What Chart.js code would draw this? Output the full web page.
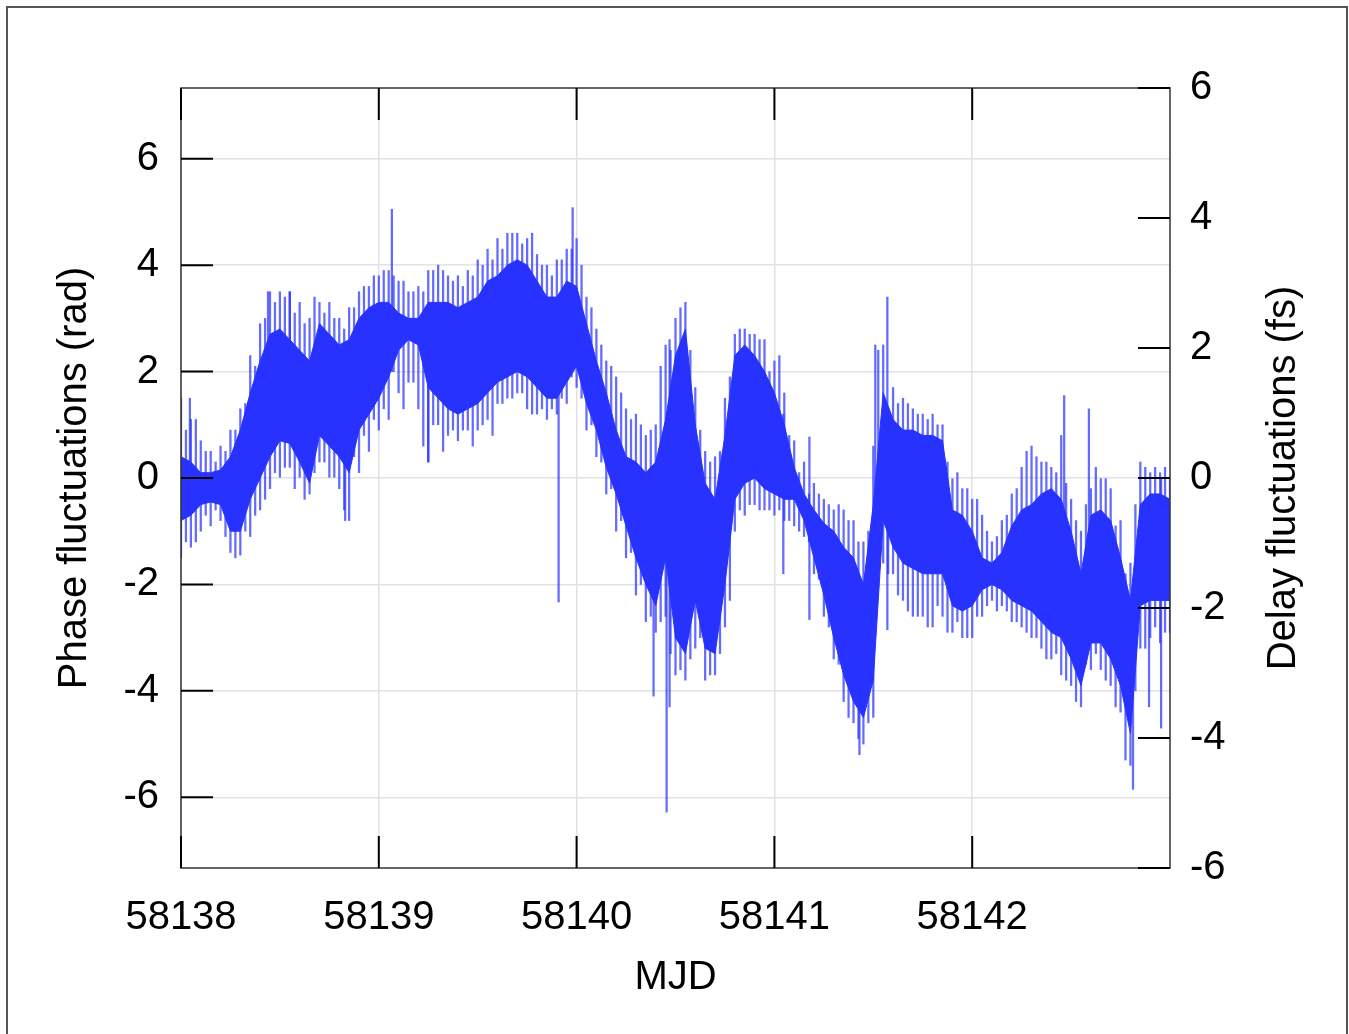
<!DOCTYPE html>
<html>
<head>
<meta charset="utf-8">
<script src="https://cdn.jsdelivr.net/npm/chart.js@4/dist/chart.umd.min.js"></script>
<style>
  html, body { margin: 0; padding: 0; background: #fff; }
  canvas { display: block; }
</style>
</head>
<body>
<canvas id="phase" width="1349" height="1034"></canvas>
<script>
/* ─── phase / delay fluctuations vs MJD ───────────────────────────────────── */

// sample positions (MJD) of the read-off envelope
const mjd = [
  58138.00, 58138.05, 58138.10, 58138.15, 58138.20, 58138.25, 58138.30, 58138.35, 58138.40, 58138.45,
  58138.50, 58138.55, 58138.60, 58138.65, 58138.70, 58138.75, 58138.80, 58138.85, 58138.90, 58138.95,
  58139.00, 58139.05, 58139.10, 58139.15, 58139.20, 58139.25, 58139.30, 58139.35, 58139.40, 58139.45,
  58139.50, 58139.55, 58139.60, 58139.65, 58139.70, 58139.75, 58139.80, 58139.85, 58139.90, 58139.95,
  58140.00, 58140.05, 58140.10, 58140.15, 58140.20, 58140.25, 58140.30, 58140.35, 58140.40, 58140.45,
  58140.50, 58140.55, 58140.60, 58140.65, 58140.70, 58140.75, 58140.80, 58140.85, 58140.90, 58140.95,
  58141.00, 58141.05, 58141.10, 58141.15, 58141.20, 58141.25, 58141.30, 58141.35, 58141.40, 58141.45,
  58141.50, 58141.55, 58141.60, 58141.65, 58141.70, 58141.75, 58141.80, 58141.85, 58141.90, 58141.95,
  58142.00, 58142.05, 58142.10, 58142.15, 58142.20, 58142.25, 58142.30, 58142.35, 58142.40, 58142.45,
  58142.50, 58142.55, 58142.60, 58142.65, 58142.70, 58142.75, 58142.80, 58142.85, 58142.90, 58142.95,
  58143.00
];

// dense part of the trace (rad)
const coreHi = [
  0.4, 0.3, 0.1, 0.1, 0.15, 0.4, 0.9, 1.6, 2.2, 2.7,
  2.8, 2.6, 2.4, 2.2, 2.9, 2.7, 2.5, 2.6, 3.0, 3.2,
  3.3, 3.3, 3.1, 3.0, 3.0, 3.3, 3.3, 3.3, 3.2, 3.3,
  3.4, 3.7, 3.8, 4.0, 4.1, 4.0, 3.7, 3.4, 3.4, 3.7,
  3.6, 2.9, 2.2, 1.6, 0.9, 0.4, 0.3, 0.1, 0.3, 1.1,
  2.3, 2.8, 1.0, -0.1, -0.4, 0.8, 2.3, 2.5, 2.3, 2.0,
  1.6, 1.0, 0.2, -0.3, -0.6, -0.85, -1.0, -1.3, -1.5, -2.0,
  -0.5, 1.6, 1.1, 0.9, 0.9, 0.8, 0.8, 0.7, -0.6, -0.7,
  -1.0, -1.5, -1.6, -1.4, -0.9, -0.6, -0.5, -0.3, -0.2, -0.4,
  -1.0, -1.8, -0.7, -0.6, -0.8, -1.5, -2.3, -0.5, -0.3, -0.3,
  -0.4
];
const coreLo = [
  -0.8, -0.7, -0.5, -0.45, -0.5, -1.0, -1.0, -0.4, 0.0, 0.4,
  0.7, 0.65, 0.3, -0.1, 0.8, 0.6, 0.4, 0.1, 0.9, 1.2,
  1.5, 1.9, 2.4, 2.6, 2.5, 1.7, 1.5, 1.3, 1.2, 1.3,
  1.4, 1.6, 1.8, 1.9, 2.0, 1.9, 1.7, 1.5, 1.5, 1.8,
  2.1, 1.4, 0.9, 0.2, -0.3, -0.9, -1.5, -2.0, -2.4, -1.5,
  -3.0, -3.3, -2.3, -3.2, -3.3, -2.0, -0.4, -0.1, 0.0, -0.2,
  -0.3, -0.4, -0.4, -0.8, -1.5, -2.2, -3.0, -3.7, -4.2, -4.5,
  -3.8, -0.8, -1.3, -1.6, -1.7, -1.8, -1.8, -1.8, -2.4, -2.5,
  -2.4, -2.1, -2.0, -2.1, -2.3, -2.4, -2.5, -2.7, -2.9, -3.0,
  -3.4, -3.9, -3.1, -3.1, -3.4, -3.9, -4.8, -2.4, -2.3, -2.3,
  -2.3
];

// whisker tips at each sample (rad)
const tipHi = [
  1.5, 1.1, 0.7, 0.5, 0.6, 0.9, 1.3, 2.3, 2.9, 3.5,
  3.5, 3.5, 3.3, 3.0, 3.3, 3.3, 3.0, 3.2, 3.5, 3.6,
  3.8, 3.9, 3.7, 3.5, 3.6, 3.9, 4.0, 3.8, 3.8, 3.9,
  4.1, 4.3, 4.5, 4.6, 4.6, 4.5, 4.2, 4.0, 4.1, 4.3,
  4.5, 3.4, 2.8, 2.2, 1.9, 1.3, 1.2, 0.8, 1.0, 2.5,
  3.0, 3.3, 1.7, 0.5, 0.4, 1.5, 2.7, 2.8, 2.7, 2.6,
  2.2, 1.6, 0.7, 0.3, -0.1, -0.4, -0.6, -0.6, -0.8, -1.2,
  0.6, 2.5, 1.7, 1.5, 1.3, 1.2, 1.2, 1.0, 0.0, -0.2,
  -0.4, -0.7, -1.2, -0.8, -0.3, 0.2, 0.6, 0.3, 0.2, 0.8,
  -0.4, -1.0, -0.2, 0.0, -0.2, -0.8, -1.6, 0.3, 0.1, 0.1,
  0.0
];
const tipLo = [
  -1.5, -1.3, -1.0, -0.9, -0.8, -1.4, -1.45, -1.1, -0.6, -0.2,
  0.0, 0.2, 0.0, -0.3, 0.3, 0.0, -0.2, -0.8, 0.1, 0.5,
  0.9, 1.1, 1.6, 1.8, 1.3, 0.3, 1.0, 0.8, 0.7, 0.9,
  0.9, 1.1, 1.4, 1.5, 1.6, 1.3, 1.2, 1.1, 1.2, 1.4,
  1.7, 0.9, 0.4, -0.3, -1.0, -1.5, -2.2, -2.7, -2.9, -2.6,
  -3.7, -3.8, -3.2, -3.8, -3.7, -2.8, -1.0, -0.7, -0.5, -0.6,
  -0.7, -0.8, -0.9, -1.1, -1.8, -2.6, -3.4, -4.2, -4.6, -5.0,
  -4.5, -1.6, -1.8, -2.3, -2.6, -2.6, -2.8, -2.6, -2.9, -3.0,
  -3.0, -2.6, -2.3, -2.4, -2.7, -2.8, -3.0, -3.2, -3.4, -3.7,
  -3.9, -4.3, -3.6, -3.6, -3.9, -4.4, -5.4, -3.2, -3.0, -3.1,
  -2.9
];

// whisker tips read half-way between samples (MJD 58138.025 + 0.05·k)
const midX = [
  58138.025, 58138.075, 58138.125, 58138.175, 58138.225, 58138.275, 58138.325, 58138.375, 58138.425, 58138.475,
  58138.525, 58138.575, 58138.625, 58138.675, 58138.725, 58138.775, 58138.825, 58138.875, 58138.925, 58138.975,
  58139.025, 58139.075, 58139.125, 58139.175, 58139.225, 58139.275, 58139.325, 58139.375, 58139.425, 58139.475,
  58139.525, 58139.575, 58139.625, 58139.675, 58139.725, 58139.775, 58139.825, 58139.875, 58139.925, 58139.975,
  58140.025, 58140.075, 58140.125, 58140.175, 58140.225, 58140.275, 58140.325, 58140.375, 58140.425, 58140.475,
  58140.525, 58140.575, 58140.625, 58140.675, 58140.725, 58140.775, 58140.825, 58140.875, 58140.925, 58140.975,
  58141.025, 58141.075, 58141.125, 58141.175, 58141.225, 58141.275, 58141.325, 58141.375, 58141.425, 58141.475,
  58141.525, 58141.575, 58141.625, 58141.675, 58141.725, 58141.775, 58141.825, 58141.875, 58141.925, 58141.975,
  58142.025, 58142.075, 58142.125, 58142.175, 58142.225, 58142.275, 58142.325, 58142.375, 58142.425, 58142.475,
  58142.525, 58142.575, 58142.625, 58142.675, 58142.725, 58142.775, 58142.825, 58142.875, 58142.925, 58142.975
];
const midHi = [
  0.9, 1.1, 0.5, 0.3, 0.5, 0.9, 1.4, 2.1, 3.0, 3.3,
  3.4, 3.1, 2.9, 3.4, 3.1, 3.0, 2.8, 3.2, 3.6, 3.8,
  3.9, 3.8, 3.7, 3.5, 3.5, 3.9, 3.9, 3.7, 3.6, 3.8,
  4.0, 4.1, 4.3, 4.6, 4.4, 4.6, 4.0, 3.8, 4.1, 4.3,
  4.0, 3.2, 2.5, 2.1, 1.6, 1.1, 1.0, 0.9, 2.1, 2.4,
  3.2, 2.4, 0.9, 0.3, 0.5, 1.9, 2.8, 2.7, 2.6, 2.0,
  2.3, 0.8, 0.1, -0.3, -0.3, -0.5, -0.5, -0.8, -1.2, -1.0,
  2.4, 1.3, 1.4, 1.4, 1.2, 1.1, 1.0, 0.3, 0.1, -0.2,
  -0.4, -1.0, -1.1, -0.7, -0.2, 0.5, 0.4, 0.3, 0.1, -0.1,
  -0.8, -0.5, 0.2, 0.0, -0.9, -1.8, -0.5, 0.2, 0.2, 0.2
];
const midLo = [
  -1.2, -1.2, -0.7, -0.6, -1.1, -1.5, -1.0, -0.7, -0.4, 0.1,
  0.2, -0.2, -0.4, 0.1, 0.3, 0.0, -0.6, 0.4, 0.8, 1.1,
  1.3, 2.0, 1.3, 1.8, 0.6, 1.0, 0.5, 0.9, 0.9, 0.6,
  1.0, 0.8, 1.4, 1.5, 1.6, 1.2, 1.3, 1.3, 1.5, 1.9,
  1.5, 1.0, 0.3, -0.2, -0.8, -1.4, -2.0, -2.6, -2.7, -3.3,
  -3.6, -3.4, -3.0, -3.7, -3.3, -2.3, -0.6, -0.5, -0.6, -0.6,
  -0.6, -0.8, -1.0, -1.2, -1.9, -2.8, -3.5, -4.5, -4.9, -4.6,
  -1.5, -1.8, -2.2, -2.5, -2.6, -2.8, -2.4, -2.9, -2.7, -3.0,
  -2.6, -2.4, -2.5, -2.5, -2.7, -2.9, -3.0, -3.4, -3.3, -3.8,
  -4.2, -3.5, -3.3, -3.8, -4.3, -5.3, -4.0, -3.2, -2.8, -2.9
];

// isolated long glitches
const spikeX  = [58138.045, 58138.44, 58138.55, 58138.83, 58139.066, 58139.25, 58139.909, 58139.98,
                 58140.389, 58140.455, 58140.47, 58141.045, 58141.177, 58141.43, 58141.51, 58141.571,
                 58142.465, 58142.59, 58142.813, 58142.894, 58142.955];
const spikeLo = [-0.5, 1.0, 1.0, -0.8, 2.0, 0.3, -2.33, 2.5,
                 -4.1, -6.28, -4.3, -1.8, -2.66, -5.2, -1.0, -2.85,
                 -1.5, -1.5, -5.85, -4.3, -4.7];
const spikeHi = [1.5, 3.5, 3.5, 1.0, 5.05, 2.5, 2.0, 5.08,
                 0.0, -1.0, 2.6, 1.2, 0.77, -2.0, 2.5, 3.4,
                 1.55, 1.3, -3.0, -1.0, 0.0];

const xTicks = [58138, 58139, 58140, 58141, 58142];
const yTicks = [-6, -4, -2, 0, 2, 4, 6];
const y2Ticks = [-6, -4, -2, 0, 2, 4, 6];
const RAD_PER_FS = 1.2215;   // 2π · 194.4 THz · 1 fs

const BLUE = 'rgb(40, 50, 255)';
const FONT = { family: "'Liberation Sans', Arial, sans-serif", size: 40 };

/* inward ticks, plot frame, right-hand title */
const framePlugin = {
    id: 'frame',
    beforeDraw(chart) {
        const { ctx } = chart;
        ctx.save();
        ctx.fillStyle = '#fff';
        ctx.fillRect(0, 0, chart.width, chart.height);
        ctx.strokeStyle = '#555';
        ctx.lineWidth = 2;
        ctx.strokeRect(7, 7, 1340, 1040);
        ctx.restore();
    },
    afterDraw(chart) {
        const { ctx, chartArea: a, scales } = chart;
        const L = 32;
        ctx.save();
        ctx.strokeStyle = '#333';
        ctx.lineWidth = 1.5;
        ctx.strokeRect(a.left, a.top, a.right - a.left, a.bottom - a.top);

        ctx.strokeStyle = '#000';
        ctx.lineWidth = 2;
        ctx.beginPath();
        for (const v of xTicks) {
            const px = scales.x.getPixelForValue(v);
            ctx.moveTo(px, a.top); ctx.lineTo(px, a.top + L);
            ctx.moveTo(px, a.bottom); ctx.lineTo(px, a.bottom - L);
        }
        for (const v of yTicks) {
            const py = scales.y.getPixelForValue(v);
            ctx.moveTo(a.left, py); ctx.lineTo(a.left + L, py);
        }
        for (const v of y2Ticks) {
            const py = scales.y2.getPixelForValue(v);
            ctx.moveTo(a.right, py); ctx.lineTo(a.right - L, py);
        }
        ctx.stroke();

        // right title reads bottom-to-top like the left one
        ctx.translate(1284, (a.top + a.bottom) / 2);
        ctx.rotate(-Math.PI / 2);
        ctx.fillStyle = '#000';
        ctx.font = `${FONT.size}px ${FONT.family}`;
        ctx.textAlign = 'center';
        ctx.textBaseline = 'middle';
        ctx.fillText('Delay fluctuations (fs)', 0, 0);
        ctx.restore();
    }
};

const pts = (ys) => mjd.map((x, i) => ({ x, y: ys[i] }));
const whiskers = mjd.map((x, i) => ({ x, y: [tipLo[i], tipHi[i]] }))
    .concat(midX.map((x, i) => ({ x, y: [midLo[i], midHi[i]] })))
    .concat(spikeX.map((x, i) => ({ x, y: [spikeLo[i], spikeHi[i]] })));

new Chart(document.getElementById('phase'), {
    type: 'line',
    data: {
        datasets: [
            {
                type: 'bar',
                data: whiskers,
                backgroundColor: 'rgba(40, 50, 255, 0.72)',
                borderWidth: 0,
                barThickness: 1.6,
                order: 2,
            },
            {
                data: pts(coreHi),
                borderColor: BLUE,
                backgroundColor: BLUE,
                borderWidth: 1,
                pointRadius: 0,
                tension: 0,
                fill: '+1',
                order: 1,
            },
            {
                data: pts(coreLo),
                borderColor: BLUE,
                borderWidth: 1,
                pointRadius: 0,
                tension: 0,
                fill: false,
                order: 1,
            }
        ]
    },
    options: {
        responsive: false,
        animation: false,
        events: [],
        layout: { padding: { top: 88, left: 0, right: 0, bottom: 0 } },
        plugins: { legend: { display: false }, tooltip: { enabled: false } },
        scales: {
            x: {
                type: 'linear',
                min: 58138,
                max: 58143,
                offset: false,
                afterBuildTicks: s => { s.ticks = xTicks.map(v => ({ value: v })); },
                afterFit: s => { s.height = 166; },
                ticks: { font: FONT, color: '#000', padding: 26, maxRotation: 0, autoSkip: false, callback: v => String(v) },
                grid: { color: '#e2e2e2', lineWidth: 1.5, drawTicks: false, offset: false },
                border: { display: false },
                title: { display: true, text: 'MJD', font: FONT, color: '#000', padding: { top: 0, bottom: 32 } },
            },
            y: {
                type: 'linear',
                position: 'left',
                min: -6 * RAD_PER_FS,
                max: 6 * RAD_PER_FS,
                afterBuildTicks: s => { s.ticks = yTicks.map(v => ({ value: v })); },
                afterFit: s => { s.width = 181; },
                ticks: { font: FONT, color: '#000', padding: 22, callback: v => String(v) },
                grid: { color: '#e2e2e2', lineWidth: 1.5, drawTicks: false },
                border: { display: false },
                title: { display: true, text: 'Phase fluctuations (rad)', font: FONT, color: '#000', padding: { top: 51, bottom: 0 } },
            },
            y2: {
                type: 'linear',
                position: 'right',
                min: -6,
                max: 6,
                afterBuildTicks: s => { s.ticks = y2Ticks.map(v => ({ value: v })); },
                afterFit: s => { s.width = 179; },
                ticks: { font: FONT, color: '#000', padding: 20, callback: v => String(v) },
                grid: { display: false, drawTicks: false },
                border: { display: false },
            }
        }
    },
    plugins: [framePlugin]
});
</script>
</body>
</html>
